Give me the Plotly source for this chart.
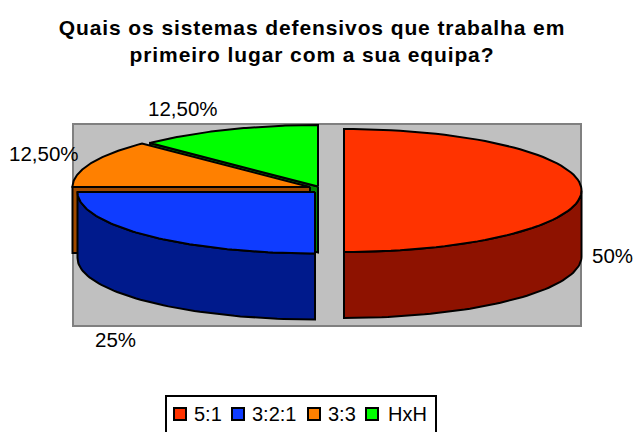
import numpy as np
import plotly.graph_objects as go

# data
categories = ["5:1", "3:2:1", "3:3", "HxH"]
values = [50, 25, 12.5, 12.5]
value_labels = ["50%", "25%", "12,50%", "12,50%"]

# styling and layout of the 3D pie (page pixels)
top_colors = ["#FF3300", "#0F3CFF", "#FF8000", "#00FF00"]
side_colors = ["#8E1200", "#001A8C", "#A04A00", "#008A00"]
centers = [(344, 190.5), (315, 192), (310, 187), (318, 186.5)]
RX, RY, DEPTH = 237.5, 61.5, 66
label_pos = [(612, 255), (115, 339), (44, 153), (183, 108)]
PLOT = (73, 124, 581, 326)
LEGEND_BOX = (166, 396, 436, 445)
swatch_x = [174, 232, 308, 366]
legend_text_x = [194, 252, 328, 388]
LEGEND_Y = 414


def rim(c, t):
    t = np.radians(t)
    return c[0] + RX * np.sin(t), c[1] - RY * np.cos(t)


def poly(xs, ys, color):
    return go.Scatter(x=np.append(xs, xs[0]), y=np.append(ys, ys[0]), mode="lines", fill="toself",
                      fillcolor=color, line=dict(color="black", width=2), showlegend=False, hoverinfo="skip")


fig = go.Figure()
edges = np.concatenate([[0], np.cumsum(values)]) / np.sum(values) * 360
# back slices first, so that the nearer ones cover them
for i in [3, 2, 1, 0]:
    c, t0, t1 = centers[i], edges[i], edges[i + 1]
    if t0 >= 270:
        x0, y0 = rim(c, t0)
        fig.add_trace(poly(np.array([c[0], x0, x0, c[0]]), np.array([c[1], y0, y0 + DEPTH, c[1] + DEPTH]), side_colors[i]))
    a, b = max(t0, 90), min(t1, 270)
    if b > a:
        th = np.linspace(a, b, 60)
        x, y = rim(c, th)
        fig.add_trace(poly(np.concatenate([x, x[::-1]]), np.concatenate([y, y[::-1] + DEPTH]), side_colors[i]))
    th = np.linspace(t0, t1, 80)
    x, y = rim(c, th)
    fig.add_trace(poly(np.concatenate([[c[0]], x]), np.concatenate([[c[1]], y]), top_colors[i]))

annotations = [dict(x=px, y=py, text=t, showarrow=False, xanchor="center", yanchor="middle",
                    font=dict(size=20.5, color="black")) for t, (px, py) in zip(value_labels, label_pos)]
annotations += [dict(x=px, y=LEGEND_Y, text=t, showarrow=False, xanchor="left", yanchor="middle", xshift=-2,
                     font=dict(size=20, color="black")) for t, px in zip(categories, legend_text_x)]

shapes = [dict(type="rect", layer="below", x0=PLOT[0], y0=PLOT[1], x1=PLOT[2], y1=PLOT[3],
               fillcolor="#C0C0C0", line=dict(color="#808080", width=2)),
          dict(type="rect", layer="below", x0=LEGEND_BOX[0], y0=LEGEND_BOX[1], x1=LEGEND_BOX[2], y1=LEGEND_BOX[3],
               fillcolor="white", line=dict(color="black", width=2))]
shapes += [dict(type="rect", x0=px, x1=px + 12, y0=LEGEND_Y - 6, y1=LEGEND_Y + 6, fillcolor=col,
                line=dict(color="black", width=2)) for px, col in zip(swatch_x, top_colors)]

fig.update_layout(
    width=635, height=432, margin=dict(l=0, r=0, t=0, b=0, autoexpand=False),
    paper_bgcolor="white", plot_bgcolor="white", showlegend=False,
    font=dict(family="Liberation Sans, Arial, sans-serif", color="black"),
    title=dict(text="<b>Quais os sistemas defensivos que trabalha em<br>primeiro lugar com a sua equipa?</b>",
               x=312 / 635, xanchor="center", y=0.919, yanchor="top", font=dict(size=21)),
    xaxis=dict(range=[0, 635], visible=False, fixedrange=True),
    yaxis=dict(range=[432, 0], visible=False, fixedrange=True),
    shapes=shapes,
    annotations=annotations,
)
post = ("document.documentElement.style.margin='0';document.body.style.margin='0';"
        "document.body.style.overflow='hidden';"
        "document.querySelectorAll('.gtitle').forEach(function(e){e.style.letterSpacing='0.9px';});")
fig.write_html("out.html", config=dict(displayModeBar=False), post_script=post)
